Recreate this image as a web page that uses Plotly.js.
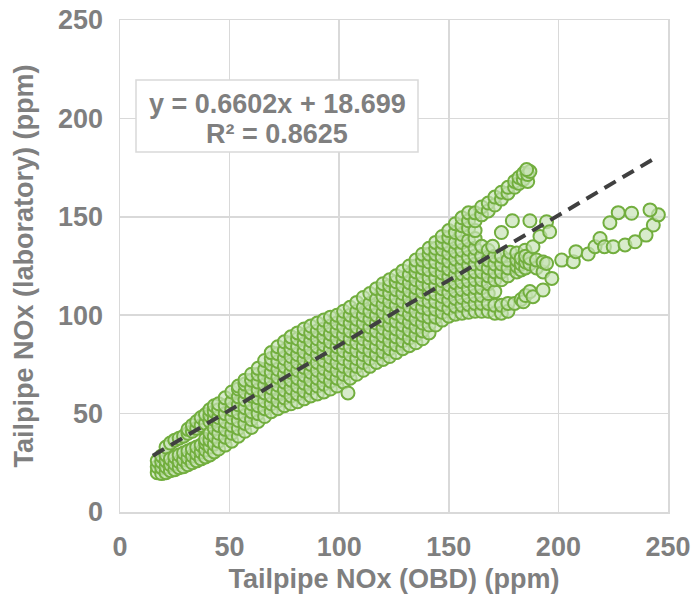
<!DOCTYPE html>
<html>
<head>
<meta charset="utf-8">
<script src="https://cdn.plot.ly/plotly-3.0.1.min.js"></script>
<style>html,body{margin:0;padding:0;background:#fff;}#chart{width:700px;height:600px;}</style>
</head>
<body>
<div id="chart"></div>
<script>
// ---- Data (Tailpipe NOx OBD vs laboratory, ppm) ----
// main cloud, grouped in columns: x value and the y values read at that x
const obdCols = [17,19,21,23,25,27,29,31,33,35,37,39,41,43,45,48,51,54,57,60,63,66,69,72,75,78,81,84,87,90,93,96,99,102,105,108,111,114,117,120,123,126,129,132,135,138,141,144,147,150,153,156,159];
const labCols = [
  [20,23,26],
  [19.5,22.5,25.5,28.5],
  [20,23,26,29,33],
  [21,24,27,35],
  [21.5,24.5,28,36.5],
  [22.5,25.5,29,37.5],
  [23,26.5,30,38.5],
  [24,27.5,31,40,42],
  [25,28.5,32,41,44],
  [26,29.5,33,42.5,46],
  [27,30.5,34,44,48],
  [28,31.5,35,37,45,49.5],
  [29,33,36.5,40,46,49,52],
  [30.5,34.5,38.5,42.5,47,51,54],
  [32,36,40,44,48,52,55],
  [34,38,42,46,50,54,58],
  [36,40,44,48,52,56,61],
  [38.5,42.5,46.5,50.5,54.5,58.5,62.5,64],
  [41,45,49,53,57,61,65,67],
  [43,47,51,55,59,63,67,70],
  [46,50,54,58,62,66,70,73],
  [48.5,52.5,56.5,60.5,64.5,68.5,72.5,77],
  [51,55,59,63,67,71,75,78,81],
  [52.5,56.5,60.5,64.5,68.5,72.5,76.5,80.5,84],
  [54,58,62,66,70,74,78,82,86.5],
  [55,59,63,67,71,75,79,83,86,89],
  [56,60,64,68,72,76,80,84,88,91],
  [57.5,61.5,65.5,69.5,73.5,77.5,81.5,85.5,89.5,93],
  [59,63,67,71,75,79,83,87,91,94.5],
  [60,64,68,72,76,80,84,88,92,96],
  [61,65,69,73,77,81,85,89,93,97.5],
  [62.5,66.5,70.5,74.5,78.5,82.5,86.5,90.5,94.5,99],
  [64,68,72,76,80,84,88,92,96,100],
  [66,70,74,78,82,86,90,94,98,102],
  [68,72,76,80,84,88,92,96,100,104],
  [70,74,78,82,86,90,94,98,102,106.5],
  [72,76,80,84,88,92,96,100,104,109],
  [74,78,82,86,90,94,98,102,106,111],
  [76,80,84,88,92,96,100,104,108,113.5],
  [77.5,81.5,85.5,89.5,93.5,97.5,101.5,105.5,109.5,113,116],
  [79,83,87,91,95,99,103,107,111,115,118],
  [81,85,89,93,97,101,105,109,113,117,120],
  [83,87,91,95,99,103,107,111,115,119,122.5],
  [84.5,88.5,92.5,96.5,100.5,104.5,108.5,112.5,116.5,120.5,125],
  [86,90,94,98,102,106,110,114,118,122,125,128],
  [88,92,96,100,104,108,112,116,120,124,128,131],
  [91,95,99,103,107,111,115,119,123,127,131,134],
  [95,99,103,107,111,115,119,123,127,131,134,137],
  [97.5,101.5,105.5,109.5,113.5,117.5,121.5,125.5,129.5,133.5,137,140],
  [99.5,103.5,107.5,111.5,115.5,119.5,123.5,127.5,131.5,135.5,139.5,143],
  [100.5,104.5,108.5,112.5,116.5,120.5,124.5,128.5,132.5,137,142,146.5],
  [101,105,109,113,117,121,125,129,133,137,141,145.5,149.5],
  [101.5,105.5,109.5,113.5,117.5,121.5,125.5,129.5,133.5,138,144,148,152]
];
// right-hand cluster (x, y pairs)
const clusterPts = [
  [104,60.5],
  [162,102],[162,106],[162,110],[162,114],[162,118],[162,122],[162,126],[162,130],[162,134],[162,139],[162,143],
  [165,102],[165,106],[165,110],[165,114],[165,118],[165,122],[165,126],[165,130],[165,135],
  [168,102],[168,106],[168,111],[168,116],[168,120],[168,124],[168,128],[168,133],
  [171,101],[171,105],[171,112],[171,118],[171,122],[171,126],[171,130],[170,135],
  [174,101],[174,105],[174,118],[174,122],[174,126],[174,130],[174,142],
  [177,102],[177,106],[177,120],[177,124],[177,128],[178,132],[179,148],
  [180,106],[181,122],[181,125],[181,128],[181,131.6],
  [183,108],[183,123],[183,126],[183,129],[184.8,133],[184,106.8],
  [185,110],[185,124],[185,127],[185,130],
  [187,112],[187,126],[187,129],[187,148],[188.4,134.8],[188.4,109.4],
  [190,124],[190,128],[191.6,140],[193,112.8],[193,122],[193,127],
  [194.6,126.3],[194.6,147.5],[196,142.4],[197,118.7]
];
// steep upper branch tip
const tipPts = [
  [162,148],[162,152],[165,151],[165,155],[168,153],[168,157],[171,156],[171,160],
  [174,159],[174,162.5],[177,162],[177,165],[180,165],[180,168],[182,167],[182,170],
  [184,169],[184,172],[186,168],[186,171.5],[187,173],[185.5,174]
];
// isolated tail to the right
const tailPts = [
  [201.5,128],[206.8,127.2],[208,132.3],[213.6,131.1],[216.7,134.8],[219,139],[221,134.8],
  [225,134.8],[230.4,135.7],[235,137.3],[240,140.7],[243.3,145.8],[245.6,151],[241.8,153.5],
  [233.4,151.8],[227.3,152.1],[223.5,147]
];
// linear trendline as printed on the chart
const trendSlope = 0.6602, trendIntercept = 18.699;
const trendX = [15, 243];
const eqText = 'y = 0.6602x + 18.699';
const r2Text = 'R² = 0.8625';
const xTitle = 'Tailpipe NOx (OBD) (ppm)';
const yTitle = 'Tailpipe NOx (laboratory) (ppm)';

// ---- build traces ----
const xs = [], ys = [];
obdCols.forEach((x, i) => labCols[i].forEach(y => { xs.push(x); ys.push(y); }));
[clusterPts, tipPts, tailPts].forEach(arr => arr.forEach(p => { xs.push(p[0]); ys.push(p[1]); }));

const FONT = 'Liberation Sans, Arial, sans-serif';
const GRAY = '#7f7f7f';

const scatter = {
  type: 'scatter', mode: 'markers', x: xs, y: ys, hoverinfo: 'skip',
  marker: { symbol: 'circle', size: 13, color: 'rgba(200,226,182,0.7)', line: { color: '#72ae3e', width: 2 } }
};
const trend = {
  type: 'scatter', mode: 'lines', x: trendX, y: trendX.map(x => trendSlope * x + trendIntercept),
  line: { color: '#404040', width: 4, dash: '13px,8px' }, hoverinfo: 'skip'
};

const axisCommon = {
  range: [0, 250], tick0: 0, dtick: 50, showgrid: true, gridcolor: '#d9d9d9', gridwidth: 1.5,
  zeroline: false, showline: true, linecolor: '#d9d9d9', linewidth: 1.5, mirror: true, ticks: '',
  tickfont: { family: FONT, size: 27, color: GRAY, weight: 'bold' }, fixedrange: true
};

const layout = {
  width: 700, height: 600, showlegend: false,
  paper_bgcolor: '#ffffff', plot_bgcolor: '#ffffff',
  margin: { l: 120, r: 32, t: 20, b: 88 },
  xaxis: Object.assign({}, axisCommon, {
    ticklabelstandoff: 10,
    title: { text: xTitle, font: { family: FONT, size: 27, color: GRAY, weight: 'bold' }, standoff: 8 }
  }),
  yaxis: Object.assign({}, axisCommon, {
    ticklabelstandoff: 10,
    title: { text: yTitle, font: { family: FONT, size: 27, color: GRAY, weight: 'bold' }, standoff: 16 }
  }),
  shapes: [{
    type: 'rect', xref: 'paper', yref: 'paper', x0: 0.0292, x1: 0.5438, y0: 0.7317, y1: 0.878,
    line: { color: '#d9d9d9', width: 1.5 }, fillcolor: '#ffffff', layer: 'above'
  }],
  annotations: [
    { xref: 'paper', yref: 'paper', x: 0.2865, y: 0.8293, xanchor: 'center', yanchor: 'middle', showarrow: false,
      text: eqText, font: { family: FONT, size: 27, color: GRAY, weight: 'bold' } },
    { xref: 'paper', yref: 'paper', x: 0.2865, y: 0.7683, xanchor: 'center', yanchor: 'middle', showarrow: false,
      text: r2Text, font: { family: FONT, size: 27, color: GRAY, weight: 'bold' } }
  ]
};

Plotly.newPlot('chart', [scatter, trend], layout, { staticPlot: true, displayModeBar: false });
</script>
</body>
</html>
